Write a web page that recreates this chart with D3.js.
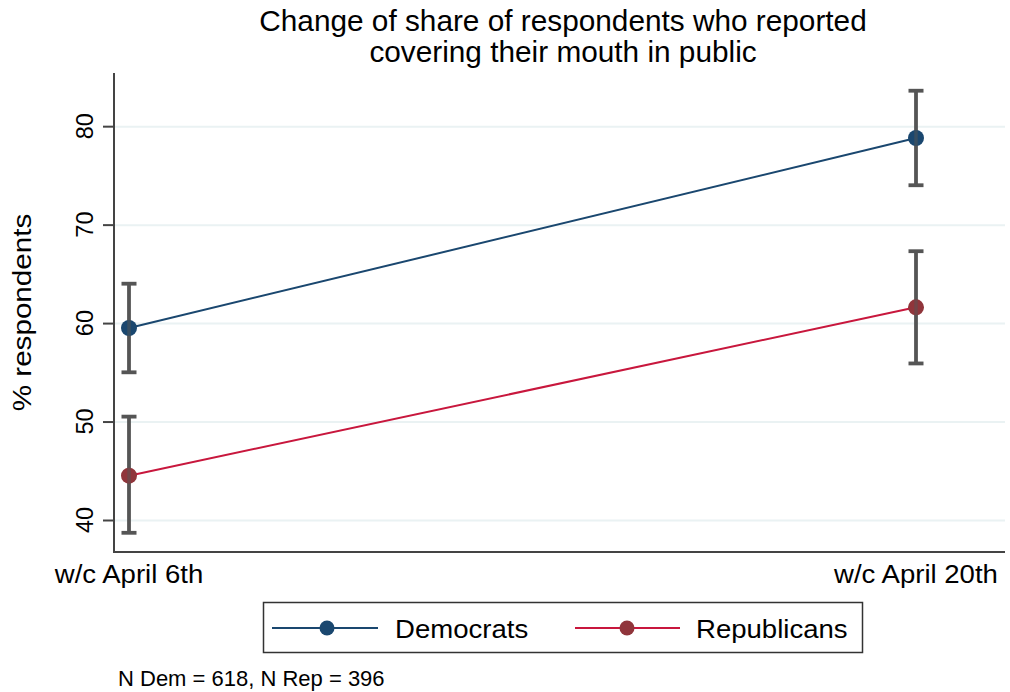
<!DOCTYPE html>
<html>
<head>
<meta charset="utf-8">
<script src="https://cdn.jsdelivr.net/npm/d3@7"></script>
<style>
  html, body { margin: 0; padding: 0; background: #ffffff; }
  svg { display: block; font-family: "Liberation Sans", Arial, sans-serif; }
</style>
</head>
<body>
<svg id="chart" width="1010" height="692"></svg>
<script>
// Survey weeks and parties
const weeks = ["w/c April 6th", "w/c April 20th"];
const parties = ["Democrats", "Republicans"];

// Share of respondents covering mouth in public (%), with 95% CI bounds
const demShare = [59.5, 78.8];
const demLower = [55.0, 74.0];
const demUpper = [64.0, 83.6];
const repShare = [44.5, 61.6];
const repLower = [38.7, 55.9];
const repUpper = [50.5, 67.3];

const yTicks = [40, 50, 60, 70, 80];
const titleLines = ["Change of share of respondents who reported", "covering their mouth in public"];
const yTitle = "% respondents";
const note = "N Dem = 618, N Rep = 396";

const series = [
  { name: parties[0], share: demShare, lo: demLower, hi: demUpper, line: "#1a476f", dot: "#1a476f" },
  { name: parties[1], share: repShare, lo: repLower, hi: repUpper, line: "#c8173d", dot: "#90353b" }
];

const svg = d3.select("#chart");
const plot = { left: 114, right: 1005, top: 73, bottom: 552 };

const x = d3.scalePoint().domain(weeks).range([129, 916]);
const y = d3.scaleLinear().domain([36.75, 85.4]).range([plot.bottom, plot.top]);

// Text helper with optional horizontal stretch and rotation
function label(g, txt, px, py, size, opts = {}) {
  const grp = g.append("g").attr("transform", `translate(${px},${py}) rotate(${opts.rotate || 0})`);
  grp.append("text")
    .attr("transform", `scale(${opts.stretch || 1},1)`)
    .attr("text-anchor", opts.anchor || "middle")
    .attr("font-size", size)
    .attr("fill", "#000")
    .text(txt);
  return grp;
}

// Title
titleLines.forEach((t, i) => label(svg, t, 563, 31 + i * 31, 29.5, { stretch: 1.01 }));

// Gridlines
svg.append("g")
  .attr("transform", `translate(${plot.left},0)`)
  .call(d3.axisLeft(y).tickValues(yTicks).tickSize(-(plot.right - plot.left)).tickFormat(""))
  .call(g => g.select(".domain").remove())
  .call(g => g.selectAll(".tick line").attr("stroke", "#eaf2f3").attr("stroke-width", 2));

// Y axis
const yAxis = svg.append("g")
  .attr("transform", `translate(${plot.left},0)`)
  .call(d3.axisLeft(y).tickValues(yTicks).tickSize(11).tickFormat(""));
yAxis.select(".domain").attr("d", `M0,${plot.top}V${plot.bottom}`).attr("stroke", "#444").attr("stroke-width", 2);
yAxis.selectAll(".tick line").attr("stroke", "#444").attr("stroke-width", 2);
yTicks.forEach(v => label(svg, String(v), 93, y(v), 23.5, { rotate: -90 }));

// X axis (baseline only, labels under each week)
const xAxis = svg.append("g")
  .attr("transform", `translate(0,${plot.bottom})`)
  .call(d3.axisBottom(x).tickSize(0).tickFormat(""));
xAxis.select(".domain").attr("d", `M${plot.left - 1},0H${plot.right}`).attr("stroke", "#444").attr("stroke-width", 2);
weeks.forEach(w => label(svg, w, x(w), 583, 26, { stretch: 1.06 }));

// Y axis title
label(svg, yTitle, 31, (plot.top + plot.bottom) / 2, 26, { rotate: -90, stretch: 1.14 });

// Lines
const line = d3.line().x((d, i) => x(weeks[i])).y(d => y(d));
series.forEach(s => {
  svg.append("path").datum(s.share)
    .attr("d", line).attr("fill", "none")
    .attr("stroke", s.line).attr("stroke-width", 2);
});

// Error bars
const cap = 7.5;
series.forEach(s => {
  const g = svg.append("g").attr("stroke", "#555").attr("stroke-width", 3.8).attr("fill", "none");
  weeks.forEach((w, i) => {
    const cx = x(w);
    g.append("line").attr("x1", cx).attr("x2", cx).attr("y1", y(s.lo[i])).attr("y2", y(s.hi[i]));
    g.append("line").attr("x1", cx - cap).attr("x2", cx + cap).attr("y1", y(s.lo[i])).attr("y2", y(s.lo[i]));
    g.append("line").attr("x1", cx - cap).attr("x2", cx + cap).attr("y1", y(s.hi[i])).attr("y2", y(s.hi[i]));
  });
});

// Markers
series.forEach(s => {
  svg.append("g").selectAll("circle").data(s.share).join("circle")
    .attr("cx", (d, i) => x(weeks[i])).attr("cy", d => y(d)).attr("r", 8)
    .attr("fill", s.dot);
});

// Error bar stems show faintly through the markers
series.forEach(s => {
  weeks.forEach((w, i) => {
    const cx = x(w);
    svg.append("line").attr("x1", cx).attr("x2", cx)
      .attr("y1", y(s.share[i]) - 8).attr("y2", y(s.share[i]) + 8)
      .attr("stroke", "#555").attr("stroke-width", 3.5).attr("opacity", 0.5);
  });
});

// Legend
const legend = svg.append("g");
legend.append("rect").attr("x", 263.5).attr("y", 602.5).attr("width", 599).attr("height", 50)
  .attr("fill", "#fff").attr("stroke", "#333").attr("stroke-width", 1.5);
const legendX = [{ l0: 272, l1: 378, dot: 327, tx: 395 }, { l0: 575, l1: 680, dot: 627, tx: 696 }];
series.forEach((s, i) => {
  const p = legendX[i];
  legend.append("line").attr("x1", p.l0).attr("x2", p.l1).attr("y1", 628).attr("y2", 628)
    .attr("stroke", s.line).attr("stroke-width", 2);
  legend.append("circle").attr("cx", p.dot).attr("cy", 628).attr("r", 7.5).attr("fill", s.dot);
  label(legend, s.name, p.tx, 638, 26, { anchor: "start", stretch: 1.06 });
});

// Note
label(svg, note, 118, 686, 22, { anchor: "start" });
</script>
</body>
</html>
